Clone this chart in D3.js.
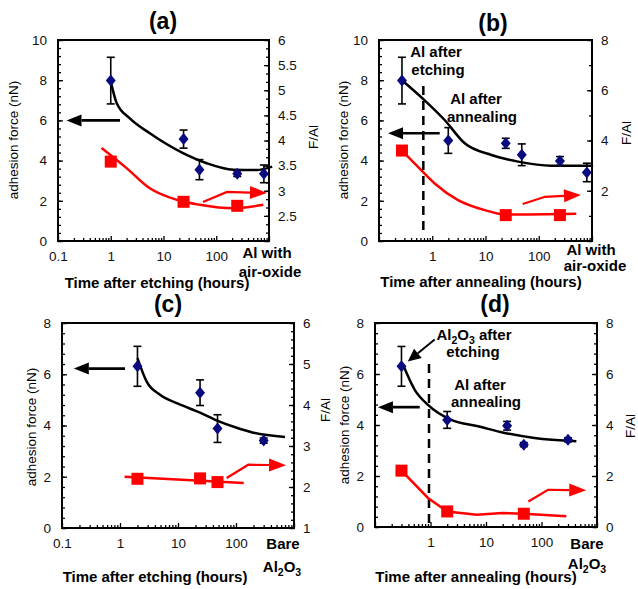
<!DOCTYPE html>
<html>
<head>
<meta charset="utf-8">
<script src="https://cdn.jsdelivr.net/npm/d3@7"></script>
<style>
    body { margin: 0; background: #fff; }
    svg { display: block; font-family: "Liberation Sans", Arial, sans-serif; }
</style>
</head>
<body>
<svg width="638" height="589" id="mainsvg"></svg>
<script>
    // ---- data ----
    // (a) Al after etching
    const timeA = [1, 24, 48, 250, 800];
    const forceA = [7.98, 5.07, 3.55, 3.35, 3.34];
    const errA = [1.16, 0.45, 0.5, 0.14, 0.44];
    const fitTimeA = [1, 1.3, 2.3, 5.5, 24, 66, 210, 585, 1150];
    const fitForceA = [7.93, 6.85, 6.1, 5.36, 4.36, 3.87, 3.55, 3.53, 3.7];
    const falTimeA = [1, 24, 250];
    const falA = [3.58, 2.78, 2.7];
    const falFitTimeA = [0.67, 2, 5.5, 17.8, 49, 210, 780];
    const falFitA = [3.85, 3.45, 3.05, 2.82, 2.72, 2.65, 2.72];

    // (b) Al after annealing
    const timeB = [0.27, 2, 24, 48, 250, 800];
    const forceB = [7.98, 5.0, 4.86, 4.29, 3.98, 3.41];
    const errB = [1.16, 0.64, 0.25, 0.54, 0.22, 0.46];
    const fitTimeB = [0.27, 0.72, 1.71, 4.07, 12.9, 41, 172, 1050];
    const fitForceB = [8.0, 7.0, 6.02, 4.86, 4.28, 3.95, 3.75, 3.75];
    const falTimeB = [0.27, 24, 250];
    const falB = [3.6, 1.03, 1.03];
    const falFitTimeB = [0.27, 0.54, 1.11, 3.05, 9.7, 24, 507];
    const falFitB = [3.6, 2.95, 2.29, 1.63, 1.23, 1.05, 1.08];

    // (c) Al2O3 after etching
    const timeC = [2, 24, 48, 300];
    const forceC = [6.31, 5.28, 3.88, 3.41];
    const errC = [0.78, 0.5, 0.54, 0.1];
    const fitTimeC = [2, 2.9, 4.9, 10, 24, 46, 100, 200, 700];
    const fitForceC = [6.63, 5.7, 5.2, 4.85, 4.5, 4.2, 3.92, 3.72, 3.55];
    const falTimeC = [2, 24, 48];
    const falC = [2.2, 2.21, 2.12];
    const falFitTimeC = [1.2, 136];
    const falFitC = [2.25, 2.1];

    // (d) Al2O3 after annealing
    const timeD = [0.3, 2, 24, 48, 300];
    const forceD = [6.3, 4.2, 3.97, 3.23, 3.42];
    const errD = [0.78, 0.33, 0.17, 0.08, 0.08];
    const fitTimeD = [0.32, 0.52, 0.9, 2.37, 7.2, 21.7, 75, 425];
    const fitForceD = [6.36, 5.38, 4.79, 4.2, 3.95, 3.69, 3.49, 3.36];
    const falTimeD = [0.3, 2, 48];
    const falD = [2.21, 0.61, 0.52];
    const falFitTimeD = [0.3, 0.9, 2, 6.8, 20, 48, 280];
    const falFitD = [2.21, 1.14, 0.61, 0.48, 0.55, 0.52, 0.42];

    const xTickValues = [0.1, 1, 10, 100, 1000];

    const svg = d3.select('#mainsvg');
    const tickFont = 13.5;
    const boldFont = 15;

    const panels = [
        {
            left: 58, right: 269, top: 40, bottom: 241,
            leftDomain: [0, 10], leftStep: 2, leftMinor: 0.4,
            rightDomain: [2, 6], rightStep: 0.5, rightMinor: 0.5 / 3, rightFrom: 2.5,
            xLabels: [0.1, 1, 10, 100],
            time: timeA, force: forceA, err: errA, fitT: fitTimeA, fitF: fitForceA,
            falT: falTimeA, fal: falA, falFitT: falFitTimeA, falFit: falFitA, falCurve: d3.curveMonotoneX,
            title: ['(a)', 163, 29], xTitle: ['Time after etching (hours)', 157, 288],
            yTitles: [['adhesion force (nN)', 13.5, 140]], rTitle: ['F/Al', 313, 137],
            blackArrow: [[1.5, 6], [0.145, 6]],
            redArrow: [[56, 1.94], [160, 2.44], [916, 2.39]],
            notes: [['Al with', 267, 258], ['air-oxide', 270, 277]]
        },
        {
            left: 379, right: 592, top: 40, bottom: 241,
            leftDomain: [0, 10], leftStep: 2, leftMinor: 0.4,
            rightDomain: [0, 8], rightStep: 2, rightMinor: 1, rightFrom: 2,
            xLabels: [1, 10, 100],
            time: timeB, force: forceB, err: errB, fitT: fitTimeB, fitF: fitForceB,
            falT: falTimeB, fal: falB, falFitT: falFitTimeB, falFit: falFitB, falCurve: d3.curveMonotoneX,
            title: ['(b)', 493, 31], xTitle: ['Time after annealing (hours)', 481, 287],
            yTitles: [['adhesion force (nN)', 343, 140]], rTitle: ['F/Al', 626, 133],
            blackArrow: [[1.38, 5.36], [0.148, 5.36]],
            redArrow: [[50, 1.84], [131, 2.2], [620, 2.29]],
            dashed: [0.68, 0.55, 8.0],
            notes: [['Al with', 591, 255], ['air-oxide', 595, 271],
                ['Al after', 436, 57], ['etching', 438, 75], ['Al after', 476, 104], ['annealing', 482, 122]]
        },
        {
            left: 62, right: 294, top: 323, bottom: 528,
            leftDomain: [0, 8], leftStep: 2, leftMinor: 0.4,
            rightDomain: [1, 6], rightStep: 1, rightMinor: 0.2, rightFrom: 1,
            xLabels: [0.1, 1, 10, 100],
            time: timeC, force: forceC, err: errC, fitT: fitTimeC, fitF: fitForceC,
            falT: falTimeC, fal: falC, falFitT: falFitTimeC, falFit: falFitC, falCurve: d3.curveLinear,
            title: ['(c)', 168, 312], xTitle: ['Time after etching (hours)', 155, 582],
            yTitles: [['adhesion force (nN)', 31.5, 427]], rTitle: null,
            blackArrow: [[1.22, 6.22], [0.16, 6.22]],
            redArrow: [[69, 1.95], [163, 2.47], [730, 2.45]],
            notes: [['Bare', 283, 549], ['Al2O3', 282, 572]]
        },
        {
            left: 375, right: 597, top: 323, bottom: 527,
            leftDomain: [0, 8], leftStep: 2, leftMinor: 0.4,
            rightDomain: [0, 8], rightStep: 2, rightMinor: 0.4, rightFrom: 0,
            xLabels: [1, 10, 100],
            time: timeD, force: forceD, err: errD, fitT: fitTimeD, fitF: fitForceD,
            falT: falTimeD, fal: falD, falFitT: falFitTimeD, falFit: falFitD, falCurve: d3.curveLinear,
            title: ['(d)', 495, 312], xTitle: ['Time after annealing (hours)', 476, 582],
            yTitles: [['F/Al', 325, 410], ['adhesion force (nN)', 344.5, 425]], rTitle: ['F/Al', 630, 426],
            blackArrow: [[0.64, 4.7], [0.113, 4.7]],
            redArrow: [[58, 1.0], [131, 1.46], [640, 1.44]],
            pointer: [[1.19, 7.35], [0.39, 6.49]],
            dashed: [0.94, 0.16, 6.49],
            notes: [['Bare', 587, 549], ['Al2O3', 587, 569],
                ['Al2O3 after', 474, 340], ['etching', 473, 357], ['Al after', 480, 390], ['annealing', 486, 407]]
        }
    ];

    // polyline ending in a filled triangular head
    const drawArrow = function (g, pts, color, w, len, half) {
        const n = pts.length;
        const [x1, y1] = pts[n - 2], [x2, y2] = pts[n - 1];
        const ang = Math.atan2(y2 - y1, x2 - x1);
        const bx = x2 - len * Math.cos(ang), by = y2 - len * Math.sin(ang);
        g.append('path')
            .attr('d', d3.line()(pts.slice(0, n - 1).concat([[bx, by]])))
            .attr('fill', 'none').attr('stroke', color).attr('stroke-width', w);
        const s = Math.sin(ang), c = Math.cos(ang);
        g.append('path')
            .attr('d', `M${x2},${y2}L${bx - half * s},${by + half * c}L${bx + half * s},${by - half * c}Z`)
            .attr('fill', color);
    };

    // text with "Al2O3" subscripts
    const addText = function (g, str, x, y, size, weight) {
        const t = g.append('text').attr('x', x).attr('y', y)
            .attr('text-anchor', 'middle').attr('font-size', size)
            .attr('font-weight', weight).attr('fill', '#000');
        if (str.includes('Al2O3')) {
            const rest = str.replace('Al2O3', '');
            t.append('tspan').text('Al');
            t.append('tspan').attr('dy', 4).attr('font-size', size * 0.7).text('2');
            t.append('tspan').attr('dy', -4).text('O');
            t.append('tspan').attr('dy', 4).attr('font-size', size * 0.7).text('3');
            if (rest) t.append('tspan').attr('dy', -4).text(rest);
        } else {
            t.text(str);
        }
        return t;
    };

    const styleAxis = function (ag) {
        ag.select('.domain').remove();
        ag.selectAll('line').attr('stroke', '#000').attr('stroke-width', 1.3);
        ag.selectAll('text').attr('font-size', tickFont)
            .attr('font-family', '"Liberation Sans", Arial, sans-serif').attr('fill', '#111');
    };

    const drawPanel = function (p) {
        const g = svg.append('g');
        const x = d3.scaleLog().domain([0.1, 1000]).range([p.left, p.right]);
        const yL = d3.scaleLinear().domain(p.leftDomain).range([p.bottom, p.top]);
        const yR = d3.scaleLinear().domain(p.rightDomain).range([p.bottom, p.top]);

        // minor log ticks
        const minorX = [];
        xTickValues.slice(0, 4).forEach(dec => d3.range(2, 10).forEach(m => minorX.push(dec * m)));
        styleAxis(g.append('g').attr('transform', `translate(0,${p.bottom})`)
            .call(d3.axisBottom(x).tickValues(minorX).tickSize(-3).tickFormat('')));
        styleAxis(g.append('g').attr('transform', `translate(0,${p.bottom})`)
            .call(d3.axisBottom(x).tickValues(xTickValues).tickSize(-5).tickPadding(10)
                .tickFormat(d => p.xLabels.includes(d) ? d3.format('~g')(d) : '')));

        // left axis
        const lMinor = d3.range(p.leftDomain[0], p.leftDomain[1] + 1e-6, p.leftMinor);
        styleAxis(g.append('g').attr('transform', `translate(${p.left},0)`)
            .call(d3.axisLeft(yL).tickValues(lMinor).tickSize(-3).tickFormat('')));
        styleAxis(g.append('g').attr('transform', `translate(${p.left},0)`)
            .call(d3.axisLeft(yL).tickValues(d3.range(p.leftDomain[0], p.leftDomain[1] + 1e-6, p.leftStep))
                .tickSize(-5).tickPadding(11)));

        // right axis
        const rMinor = d3.range(p.rightDomain[0], p.rightDomain[1] + 1e-6, p.rightMinor);
        styleAxis(g.append('g').attr('transform', `translate(${p.right},0)`)
            .call(d3.axisRight(yR).tickValues(rMinor).tickSize(-3).tickFormat('')));
        styleAxis(g.append('g').attr('transform', `translate(${p.right},0)`)
            .call(d3.axisRight(yR).tickValues(d3.range(p.rightDomain[0], p.rightDomain[1] + 1e-6, p.rightStep))
                .tickSize(-5).tickPadding(9)
                .tickFormat(d => d >= p.rightFrom - 1e-6 ? d3.format('~g')(d) : '')));

        // frame
        g.append('rect')
            .attr('x', p.left).attr('y', p.top)
            .attr('width', p.right - p.left).attr('height', p.bottom - p.top)
            .attr('fill', 'none').attr('stroke', '#000').attr('stroke-width', 2);

        // dashed marker line
        if (p.dashed) {
            g.append('line')
                .attr('x1', x(p.dashed[0])).attr('x2', x(p.dashed[0]))
                .attr('y1', yL(p.dashed[1])).attr('y2', yL(p.dashed[2]))
                .attr('stroke', '#000').attr('stroke-width', 2.5).attr('stroke-dasharray', '9,6');
        }

        // F/Al (right axis) series
        const falFit = d3.zip(p.falFitT, p.falFit);
        g.append('path')
            .attr('d', d3.line().x(d => x(d[0])).y(d => yR(d[1])).curve(p.falCurve)(falFit))
            .attr('fill', 'none').attr('stroke', '#ff0000').attr('stroke-width', 2.5);
        g.selectAll('.sq').data(d3.zip(p.falT, p.fal)).join('rect')
            .attr('x', d => x(d[0]) - 6).attr('y', d => yR(d[1]) - 6)
            .attr('width', 12).attr('height', 12).attr('fill', '#ff0000');

        // adhesion force series
        const pts = d3.zip(p.time, p.force, p.err);
        const eb = g.append('g').attr('stroke', '#000').attr('stroke-width', 1.6);
        pts.forEach(d => {
            const cx = x(d[0]), y1 = yL(d[1] + d[2]), y2 = yL(d[1] - d[2]);
            eb.append('line').attr('x1', cx).attr('x2', cx).attr('y1', y1).attr('y2', y2);
            eb.append('line').attr('x1', cx - 4).attr('x2', cx + 4).attr('y1', y1).attr('y2', y1);
            eb.append('line').attr('x1', cx - 4).attr('x2', cx + 4).attr('y1', y2).attr('y2', y2);
        });
        g.append('path')
            .attr('d', d3.line().x(d => x(d[0])).y(d => yL(d[1])).curve(d3.curveMonotoneX)(d3.zip(p.fitT, p.fitF)))
            .attr('fill', 'none').attr('stroke', '#000').attr('stroke-width', 2.5);
        g.selectAll('.dia').data(pts).join('path')
            .attr('transform', d => `translate(${x(d[0])},${yL(d[1])})`)
            .attr('d', 'M0,-6L5,0L0,6L-5,0Z')
            .attr('fill', '#0b0b80');

        // arrows
        const toPx = a => a.map(d => [x(d[0]), yL(d[1])]);
        drawArrow(g, toPx(p.blackArrow), '#000', 2.7, 15, 6);
        drawArrow(g, toPx(p.redArrow), '#ff0000', 2.2, 17, 6.5);
        if (p.pointer) drawArrow(g, toPx(p.pointer), '#000', 2, 13, 6);

        // texts
        addText(g, p.title[0], p.title[1], p.title[2], 23, 'bold');
        addText(g, p.xTitle[0], p.xTitle[1], p.xTitle[2], boldFont, 'bold');
        p.notes.forEach(n => addText(g, n[0], n[1], n[2], boldFont, 'bold'));
        const vtitles = p.rTitle ? p.yTitles.concat([p.rTitle]) : p.yTitles;
        vtitles.forEach(t => {
            addText(g, t[0], 0, 0, tickFont, 'normal')
                .attr('dominant-baseline', 'central')
                .attr('transform', `translate(${t[1]},${t[2]}) rotate(-90)`);
        });
    };

    panels.forEach(drawPanel);
</script>
</body>
</html>
